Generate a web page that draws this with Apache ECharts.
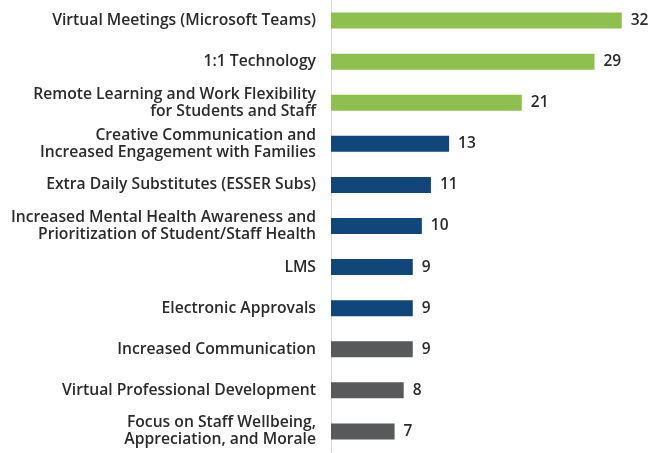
<!DOCTYPE html>
<html><head><meta charset="utf-8">
<script src="https://cdn.jsdelivr.net/npm/echarts@6/dist/echarts.min.js"></script>
<style>html,body{margin:0;padding:0;background:#fff}#c{width:651px;height:453px}</style>
</head><body><div id="c"></div>
<script>
const categories = [
  "Virtual Meetings (Microsoft Teams)",
  "1:1 Technology",
  "Remote Learning and Work Flexibility\nfor Students and Staff",
  "Creative Communication and\nIncreased Engagement with Families",
  "Extra Daily Substitutes (ESSER Subs)",
  "Increased Mental Health Awareness and\nPrioritization of Student/Staff Health",
  "LMS",
  "Electronic Approvals",
  "Increased Communication",
  "Virtual Professional Development",
  "Focus on Staff Wellbeing,\nAppreciation, and Morale"
];
const values = [32, 29, 21, 13, 11, 10, 9, 9, 9, 8, 7];
const groups = ["green","green","green","navy","navy","navy","navy","navy","gray","gray","gray"];
const groupColors = {green: "#8dc04f", navy: "#10467a", gray: "#58595b"};

const chart = echarts.init(document.getElementById('c'));
chart.setOption({
  animation: false,
  grid: {left: 331, top: 0, width: 318, height: 452, containLabel: false},
  xAxis: {type: 'value', min: 0, max: 35, show: false},
  yAxis: {
    type: 'category', inverse: true, data: categories,
    axisLine: {show: true, lineStyle: {color: '#d9d9d9', width: 1}},
    axisTick: {show: false},
    axisLabel: {margin: 15, color: '#2b2b2b', fontFamily: 'Open Sans', fontWeight: 600, fontSize: 15.7, lineHeight: 17, align: 'right'}
  },
  series: [{
    type: 'bar', barWidth: 16,
    data: values.map((v, i) => ({value: v, itemStyle: {color: groupColors[groups[i]]}})),
    label: {show: true, position: 'right', distance: 9, color: '#2b2b2b', fontFamily: 'Open Sans', fontWeight: 600, fontSize: 15.5}
  }]
});
</script></body></html>
